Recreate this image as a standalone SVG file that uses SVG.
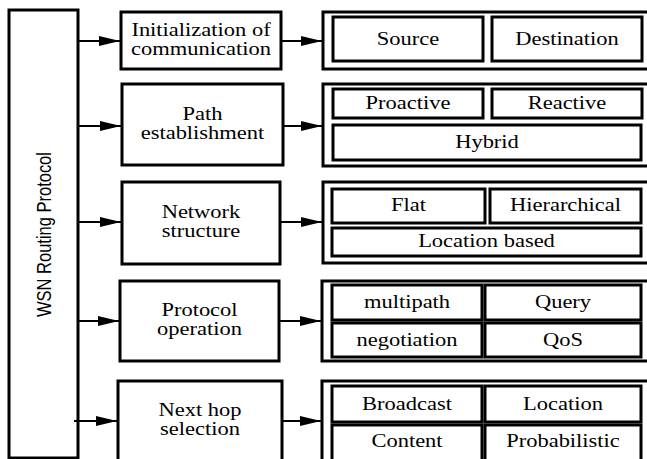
<svg xmlns="http://www.w3.org/2000/svg" width="647" height="459" viewBox="0 0 647 459">
<style>
.b{fill:#fff;stroke:#000;stroke-width:3}
.i{fill:none;stroke:#000;stroke-width:3}
.t{font-family:"Liberation Serif","Times New Roman",serif;font-size:18px;text-anchor:middle;fill:#000}
.c{stroke:#000;stroke-width:2.2;fill:none;marker-end:url(#ah)}
</style>
<defs>
<marker id="ah" markerUnits="userSpaceOnUse" markerWidth="22" markerHeight="11" refX="21" refY="5" orient="auto" overflow="visible">
<path d="M0,0 L21,5 L0,10 z" fill="#000"/>
</marker>
</defs>
<rect width="647" height="459" fill="#fff"/>
<g id="root">
<rect class="b" x="9" y="10" width="69" height="448"/>
<text transform="translate(51,234.5) scale(1.25,1) rotate(-90)" font-family="Liberation Sans,Arial,sans-serif" font-size="16.5" text-anchor="middle">WSN Routing Protocol</text>
</g>
<g id="connectors">
<line class="c" x1="78" y1="41" x2="120" y2="41"/>
<line class="c" x1="78" y1="126" x2="121" y2="126"/>
<line class="c" x1="78" y1="222" x2="121" y2="222"/>
<line class="c" x1="78" y1="321" x2="119" y2="321"/>
<line class="c" x1="74" y1="421" x2="117" y2="421"/>
<line class="c" x1="281" y1="41" x2="322" y2="41"/>
<line class="c" x1="283" y1="126" x2="322" y2="126"/>
<line class="c" x1="280" y1="222" x2="322" y2="222"/>
<line class="c" x1="279" y1="321" x2="321" y2="321"/>
<line class="c" x1="282" y1="421" x2="321" y2="421"/>
</g>
<g id="init">
<rect class="b" x="121" y="12" width="160" height="57"/>
<text class="t" transform="translate(201,36) scale(1.25,1)">Initialization of</text>
<text class="t" transform="translate(201,55) scale(1.25,1)">communication</text>
</g>
<g id="path">
<rect class="b" x="122" y="84" width="161" height="81"/>
<text class="t" transform="translate(202.5,120) scale(1.25,1)">Path</text>
<text class="t" transform="translate(202.5,139) scale(1.25,1)">establishment</text>
</g>
<g id="network">
<rect class="b" x="122" y="182" width="158" height="82"/>
<text class="t" transform="translate(201,218) scale(1.25,1)">Network</text>
<text class="t" transform="translate(201,237) scale(1.25,1)">structure</text>
</g>
<g id="protocol">
<rect class="b" x="120" y="281" width="159" height="80"/>
<text class="t" transform="translate(199.5,316) scale(1.25,1)">Protocol</text>
<text class="t" transform="translate(199.5,335) scale(1.25,1)">operation</text>
</g>
<g id="nexthop">
<rect class="b" x="118" y="381" width="164" height="90"/>
<text class="t" transform="translate(200,416) scale(1.25,1)">Next hop</text>
<text class="t" transform="translate(200,435) scale(1.25,1)">selection</text>
</g>
<g id="group-init">
<rect class="b" x="323" y="12" width="340" height="57"/>
<rect class="i" x="333" y="17" width="150" height="44"/>
<text class="t" transform="translate(408,45) scale(1.25,1)">Source</text>
<rect class="i" x="492" y="17" width="150" height="44"/>
<text class="t" transform="translate(567,45) scale(1.25,1)">Destination</text>
</g>
<g id="group-path">
<rect class="b" x="323" y="84" width="340" height="82"/>
<rect class="i" x="333" y="89" width="150" height="29"/>
<text class="t" transform="translate(408,109) scale(1.25,1)">Proactive</text>
<rect class="i" x="492" y="89" width="150" height="29"/>
<text class="t" transform="translate(567,109) scale(1.25,1)">Reactive</text>
<rect class="i" x="333" y="125" width="308" height="35"/>
<text class="t" transform="translate(487,148) scale(1.25,1)">Hybrid</text>
</g>
<g id="group-network">
<rect class="b" x="323" y="182" width="340" height="81"/>
<rect class="i" x="332" y="189" width="153" height="34"/>
<text class="t" transform="translate(408.5,211) scale(1.25,1)">Flat</text>
<rect class="i" x="490" y="189" width="151" height="34"/>
<text class="t" transform="translate(565.5,211) scale(1.25,1)">Hierarchical</text>
<rect class="i" x="332" y="228" width="309" height="28"/>
<text class="t" transform="translate(486.5,247) scale(1.25,1)">Location based</text>
</g>
<g id="group-protocol">
<rect class="b" x="322" y="281" width="340" height="80"/>
<rect class="i" x="332" y="285" width="150" height="35"/>
<text class="t" transform="translate(407,308) scale(1.25,1)">multipath</text>
<rect class="i" x="485" y="285" width="156" height="35"/>
<text class="t" transform="translate(563,308) scale(1.25,1)">Query</text>
<rect class="i" x="332" y="323" width="150" height="34"/>
<text class="t" transform="translate(407,345.5) scale(1.25,1)">negotiation</text>
<rect class="i" x="485" y="323" width="156" height="34"/>
<text class="t" transform="translate(563,345.5) scale(1.25,1)">QoS</text>
</g>
<g id="group-nexthop">
<rect class="b" x="322" y="381" width="340" height="90"/>
<rect class="i" x="332" y="386" width="150" height="36"/>
<text class="t" transform="translate(407,410) scale(1.25,1)">Broadcast</text>
<rect class="i" x="485" y="386" width="156" height="36"/>
<text class="t" transform="translate(563,410) scale(1.25,1)">Location</text>
<rect class="i" x="332" y="425" width="150" height="40"/>
<text class="t" transform="translate(407,447) scale(1.25,1)">Content</text>
<rect class="i" x="485" y="425" width="156" height="40"/>
<text class="t" transform="translate(563,447) scale(1.25,1)">Probabilistic</text>
</g>
</svg>
